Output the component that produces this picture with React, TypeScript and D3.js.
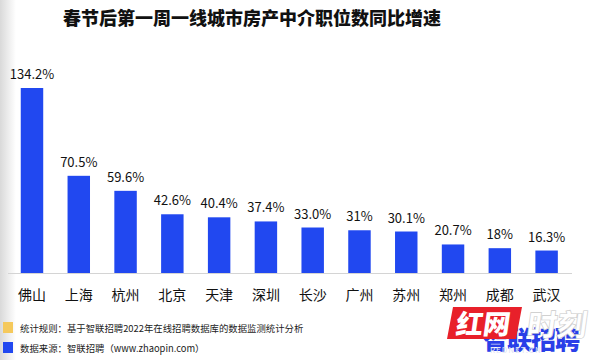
import React from 'react';
import * as d3 from 'd3';

const cities = ['佛山', '上海', '杭州', '北京', '天津', '深圳', '长沙', '广州', '苏州', '郑州', '成都', '武汉'];
const growth = [134.2, 70.5, 59.6, 42.6, 40.4, 37.4, 33.0, 31, 30.1, 20.7, 18, 16.3];
const growthLabels = ['134.2%', '70.5%', '59.6%', '42.6%', '40.4%', '37.4%', '33.0%', '31%', '30.1%', '20.7%', '18%', '16.3%'];
const legendItems = [
  { color: '#f5c95c', text: '统计规则：基于智联招聘2022年在线招聘数据库的数据监测统计分析' },
  { color: '#2148f0', text: '数据来源：智联招聘（www.zhaopin.com）' },
];

const width = 600;
const height = 360;
const font = '"Noto Sans CJK SC", "Noto Sans", sans-serif';

const App = () => {
  const baseline = 273;

  const x = d3.scaleBand()
    .domain(cities)
    .range([8.6, 570])
    .paddingInner(0.52)
    .paddingOuter(0.26);

  const y = d3.scaleLinear()
    .domain([0, 134.2])
    .range([baseline, 88]);

  return (
    <svg width={width} height={height} style={{ position: 'absolute', left: 0, top: 0 }}>
      <defs>
        <linearGradient id="edge" x1="0" x2="1" y1="0" y2="0">
          <stop offset="0" stopColor="#d9d9d9" />
          <stop offset="1" stopColor="#ffffff" />
        </linearGradient>
      </defs>
      <rect width={width} height={height} fill="#fff" />
      <rect width={16} height={height} fill="url(#edge)" />

      <text x={252} y={25} textAnchor="middle" fontFamily={font} fontWeight={900}
        fontSize={18} fill="#111">春节后第一周一线城市房产中介职位数同比增速</text>

      {cities.map((c, i) => (
        <g key={c}>
          <rect x={x(c)} y={y(growth[i])} width={x.bandwidth()}
            height={baseline - y(growth[i])} fill="#2148f0" />
          <text x={x(c)! + x.bandwidth() / 2} y={y(growth[i]) - 9} textAnchor="middle"
            fontFamily={font} fontSize={13} fill="#111">{growthLabels[i]}</text>
          <text x={x(c)! + x.bandwidth() / 2} y={300} textAnchor="middle"
            fontFamily={font} fontSize={14} fill="#111">{c}</text>
        </g>
      ))}

      <line x1={8} x2={572} y1={baseline + 0.5} y2={baseline + 0.5} stroke="#d4d4d4" />

      {legendItems.map((d, i) => (
        <g key={d.text} transform={`translate(3, ${322 + i * 20})`}>
          <rect width={10} height={11} fill={d.color} />
          <text x={17} y={9.5} fontFamily={font} fontSize={9.4} fill="#222">{d.text}</text>
        </g>
      ))}

      {/* watermark */}
      <g>
        <text x={483} y={349} fontFamily={font} fontWeight={900} fontSize={25}
          fill="#2a3fe8" letterSpacing={-1}>智联招聘</text>
        <text x={490} y={353} fontFamily={font} fontSize={8} fill="#dfe3f5"
          letterSpacing={1}>REDNET.CN</text>
        <path d="M453,307 L522,307 L516,339 L447,339 Z" fill="#e8202a" />
        <text x={484} y={334} textAnchor="middle" fontFamily={font} fontWeight={900}
          fontSize={27} fill="#fff" transform="skewX(-8) translate(45,0)">红网</text>
        <text x={556} y={336} textAnchor="middle" fontFamily={font} fontWeight={900}
          fontSize={30} fill="#fff" stroke="#c9c9c9" strokeWidth={0.6}
          transform="skewX(-8) translate(47,0)">时刻</text>
      </g>
    </svg>
  );
};

export default App;
